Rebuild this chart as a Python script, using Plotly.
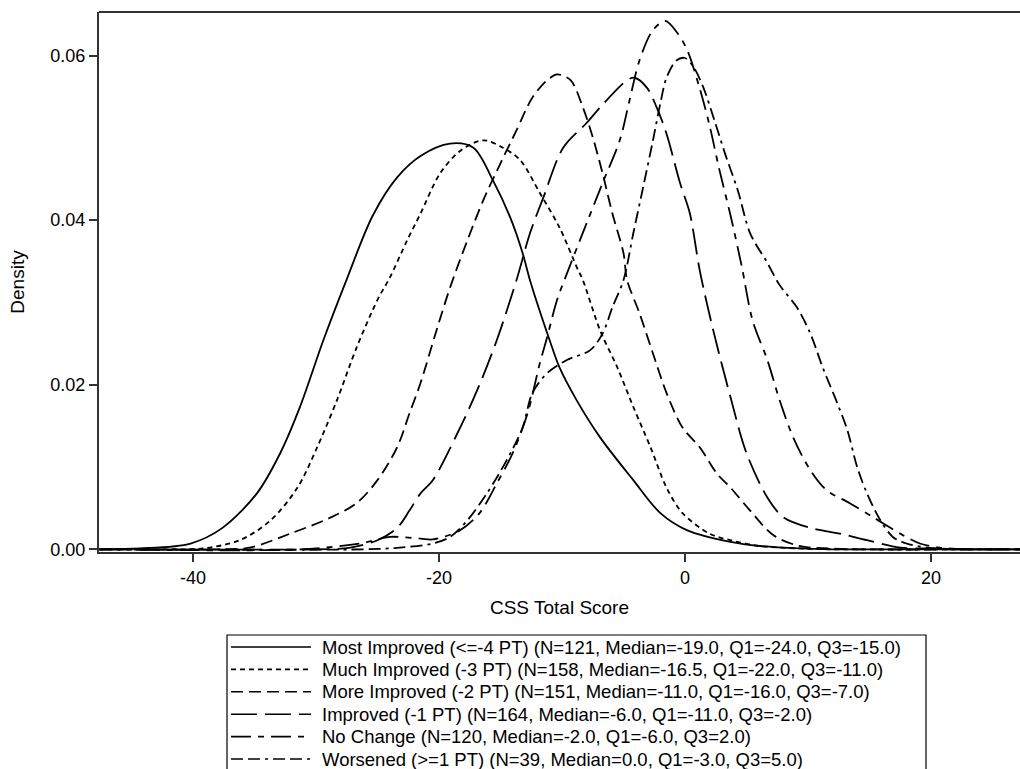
import plotly.graph_objects as go

# ---- data ----
names = [
    "Most Improved (<=-4 PT) (N=121, Median=-19.0, Q1=-24.0, Q3=-15.0)",
    "Much Improved (-3 PT) (N=158, Median=-16.5, Q1=-22.0, Q3=-11.0)",
    "More Improved (-2 PT) (N=151, Median=-11.0, Q1=-16.0, Q3=-7.0)",
    "Improved (-1 PT) (N=164, Median=-6.0, Q1=-11.0, Q3=-2.0)",
    "No Change (N=120, Median=-2.0, Q1=-6.0, Q3=2.0)",
    "Worsened (>=1 PT) (N=39, Median=0.0, Q1=-3.0, Q3=5.0)",
]

most_x = [-47.6, -44.3, -40.2, -37.6, -34.8, -32.9, -31.3, -29.4, -27.5, -25.4, -23.4, -21.5, -19.1, -17.2,
          -15.6, -14.2, -13.2, -12.6, -11.0, -10.2, -8.8, -6.9, -4.2, -2.0, 0.2, 3.7, 6.1, 9.3, 12.0, 27.3]
most_y = [0.0, 0.0001, 0.0007, 0.0026, 0.0068, 0.0117, 0.0173, 0.0254, 0.0328, 0.0405, 0.0452, 0.0478, 0.0493,
          0.0488, 0.0448, 0.0403, 0.0360, 0.0327, 0.0254, 0.0221, 0.0181, 0.0136, 0.0084, 0.0044, 0.0023,
          0.0009, 0.0004, 0.0001, 0.0, 0.0]

much_x = [-47.6, -42.0, -39.2, -36.2, -33.7, -31.5, -29.9, -28.3, -26.7, -25.0, -24.0, -22.6, -21.5, -19.9, -18.2,
          -16.4, -14.8, -13.4, -11.8, -10.2, -8.8, -8.3, -6.9, -5.5, -4.2, -2.8, -1.5, -0.2, 2.0, 3.7, 6.1,
          9.3, 12.0, 27.3]
much_y = [0.0, 0.0, 0.0001, 0.0011, 0.0035, 0.0075, 0.0124, 0.0181, 0.0245, 0.0303, 0.0330, 0.0375, 0.0408,
          0.0457, 0.0485, 0.0497, 0.0488, 0.0473, 0.0433, 0.0391, 0.0343, 0.0327, 0.0266, 0.0221, 0.0173,
          0.0124, 0.0075, 0.0044, 0.0019, 0.0011, 0.0004, 0.0001, 0.0, 0.0]

more_x = [-47.6, -38.0, -35.4, -32.1, -28.9, -26.7, -25.0, -23.4, -22.4, -21.5, -20.2, -19.1, -17.7, -16.4,
          -15.0, -13.7, -12.4, -11.2, -10.4, -9.3, -8.3, -7.5, -6.7, -5.9, -5.0, -4.7, -3.7, -2.6, -1.5,
          -0.2, 1.2, 2.6, 3.7, 5.3, 7.2, 9.3, 11.8, 14.0, 27.3]
more_y = [0.0, 0.0, 0.0002, 0.0019, 0.0038, 0.0056, 0.0084, 0.0124, 0.0165, 0.0202, 0.0266, 0.0318, 0.0375,
          0.0424, 0.0469, 0.0509, 0.0549, 0.0570, 0.0577, 0.0570, 0.0537, 0.0501, 0.0457, 0.0408, 0.0360,
          0.0327, 0.0287, 0.0238, 0.0190, 0.0148, 0.0124, 0.0092, 0.0075, 0.0047, 0.0017, 0.0004, 0.0001,
          0.0, 0.0]

impr_x = [-47.6, -30.0, -27.2, -25.0, -23.4, -22.4, -21.5, -20.5, -18.5, -16.9, -15.3, -13.7, -12.6, -11.5,
          -9.9, -8.0, -6.9, -4.7, -4.1, -3.1, -2.3, -1.5, -0.4, 0.4, 1.2, 2.3, 3.7, 5.0, 6.7, 8.0, 10.2,
          12.6, 14.8, 17.5, 19.9, 22.0, 27.3]
impr_y = [0.0, 0.0, 0.0002, 0.0011, 0.0026, 0.0047, 0.0068, 0.0084, 0.0141, 0.0193, 0.0254, 0.0327, 0.0384,
          0.0428, 0.0488, 0.0518, 0.0537, 0.0570, 0.0573, 0.0561, 0.0537, 0.0505, 0.0445, 0.0408, 0.0339,
          0.0266, 0.0185, 0.0117, 0.0063, 0.0039, 0.0026, 0.0019, 0.0011, 0.0002, 0.0001, 0.0, 0.0]

noch_x = [-47.6, -31.3, -26.4, -24.0, -21.5, -20.5, -18.3, -16.7, -15.3, -14.0, -12.8, -11.8, -11.2, -10.4,
          -9.6, -8.0, -6.7, -5.3, -4.5, -3.7, -2.6, -1.6, -0.6, 0.2, 1.2, 2.0, 2.8, 3.7, 4.6, 5.5, 6.7,
          7.7, 8.8, 10.2, 11.5, 13.4, 15.3, 17.5, 19.1, 20.7, 23.2, 27.3]
noch_y = [0.0, 0.0, 0.0007, 0.0015, 0.0013, 0.0012, 0.0023, 0.0044, 0.0080, 0.0117, 0.0165, 0.0226, 0.0258,
          0.0303, 0.0335, 0.0396, 0.0445, 0.0497, 0.0546, 0.0594, 0.0631, 0.0642, 0.0627, 0.0606, 0.0560,
          0.0515, 0.0461, 0.0406, 0.0345, 0.0278, 0.0230, 0.0181, 0.0136, 0.0096, 0.0072, 0.0056, 0.0039,
          0.0019, 0.0007, 0.0002, 0.0, 0.0]

wors_x = [-47.6, -26.0, -23.2, -20.5, -19.1, -17.7, -16.1, -14.5, -13.2, -12.4, -11.2, -9.6, -7.7, -6.7, -5.9,
          -5.0, -4.2, -3.4, -2.6, -2.0, -1.5, -0.7, 0.0, 0.7, 1.5, 2.4, 3.3, 4.3, 5.3, 6.7, 7.7, 9.1, 10.2,
          11.2, 12.4, 13.2, 14.0, 14.8, 15.9, 16.9, 18.0, 19.7, 22.4, 27.3]
wors_y = [0.0, 0.0, 0.0002, 0.0007, 0.0015, 0.0035, 0.0068, 0.0108, 0.0148, 0.0190, 0.0214, 0.0230, 0.0242,
          0.0262, 0.0294, 0.0327, 0.0384, 0.0440, 0.0497, 0.0542, 0.0573, 0.0594, 0.0597, 0.0586, 0.0561,
          0.0521, 0.0479, 0.0436, 0.0384, 0.0348, 0.0321, 0.0294, 0.0262, 0.0221, 0.0177, 0.0145, 0.0100,
          0.0068, 0.0035, 0.0015, 0.0007, 0.0002, 0.0, 0.0]

xs = [most_x, much_x, more_x, impr_x, noch_x, wors_x]
ys = [most_y, much_y, more_y, impr_y, noch_y, wors_y]
dashes = ["solid", "5px,4px", "12px,6px", "26px,8px", "20px,7px,6px,7px", "12px,5px,12px,5px,3px,5px"]

x_ticks = [-40, -20, 0, 20]
y_ticks = [0.00, 0.02, 0.04, 0.06]

fig = go.Figure()
for n, x, y, d in zip(names, xs, ys, dashes):
    fig.add_trace(go.Scatter(x=x, y=y, mode="lines", name=n, showlegend=False,
                             line=dict(color="black", width=1.8, dash=d, shape="spline", smoothing=0.9)))

# ---- legend box drawn as shapes + text (lets the long line samples match) ----
W, H = 1020, 769
L, R, T, B = 99, 0, 12, 217
pw, ph = W - L - R, H - T - B


def px_x(px):
    return (px - L) / pw


def px_y(py):
    return (H - B - py) / ph


shapes = [
    dict(type="line", xref="paper", yref="paper", x0=0, x1=1, y0=1, y1=1,
         line=dict(color="#333", width=2)),
    dict(type="rect", xref="paper", yref="paper", x0=px_x(227), x1=px_x(926),
         y0=px_y(635), y1=px_y(800), line=dict(color="black", width=1.2), fillcolor="white", layer="above"),
]
annotations = []
row0, rowgap = 647, 22.4
for i, (n, d) in enumerate(zip(names, dashes)):
    yy = px_y(row0 + i * rowgap)
    shapes.append(dict(type="line", xref="paper", yref="paper", x0=px_x(231), x1=px_x(311), y0=yy, y1=yy,
                       line=dict(color="black", width=1.6, dash=d), layer="above"))
    annotations.append(dict(x=px_x(320), y=yy, xref="paper", yref="paper", text=n, showarrow=False,
                            xanchor="left", yanchor="middle", font=dict(size=18.5)))

font = "Liberation Sans, Arial, sans-serif"
fig.update_layout(
    width=W, height=H,
    paper_bgcolor="white", plot_bgcolor="white",
    margin=dict(l=L, r=R, t=T, b=B, autoexpand=False),
    font=dict(family=font, color="black", size=18),
    xaxis=dict(range=[-47.64, 27.24], tickvals=x_ticks, ticktext=[str(v) for v in x_ticks],
               ticks="outside", ticklen=8, tickwidth=1.5, tickcolor="#333",
               showline=True, linecolor="#333", linewidth=2, showgrid=False, zeroline=False,
               title=dict(text="CSS Total Score", font=dict(size=19), standoff=14)),
    yaxis=dict(range=[-0.00033, 0.06529], tickvals=y_ticks, ticktext=["%.2f" % v for v in y_ticks],
               ticks="outside", ticklen=8, tickwidth=1.5, tickcolor="#333",
               showline=True, linecolor="#333", linewidth=2, showgrid=False, zeroline=False,
               title=dict(text="Density", font=dict(size=19), standoff=21)),
    showlegend=False,
    shapes=shapes,
    annotations=annotations,
)

# remove the browser's default 8px page margin so the figure sits at the window's corner
fig.write_html("out.html", config={"displayModeBar": False},
               post_script="document.body.style.margin='0px';")
